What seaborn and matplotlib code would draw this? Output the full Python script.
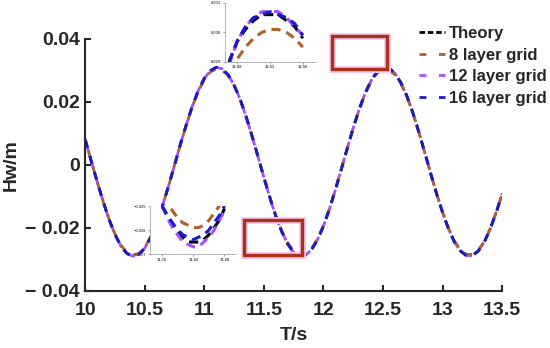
"""Wave elevation vs time: theory vs grid refinement, with zoomed insets."""

import matplotlib.pyplot as plt
from matplotlib.patches import Rectangle
from matplotlib.lines import Line2D
import seaborn as sns

# ---- data ----
t = [10.00, 10.05, 10.10, 10.15, 10.20, 10.25, 10.30, 10.35, 10.40, 10.45,
     10.50, 10.55, 10.60, 10.65, 10.70, 10.75, 10.80, 10.85, 10.90, 10.95,
     11.00, 11.05, 11.10, 11.15, 11.20, 11.25, 11.30, 11.35, 11.40, 11.45,
     11.50, 11.55, 11.60, 11.65, 11.70, 11.75, 11.80, 11.85, 11.90, 11.95,
     12.00, 12.05, 12.10, 12.15, 12.20, 12.25, 12.30, 12.35, 12.40, 12.45,
     12.50, 12.55, 12.60, 12.65, 12.70, 12.75, 12.80, 12.85, 12.90, 12.95,
     13.00, 13.05, 13.10, 13.15, 13.20, 13.25, 13.30, 13.35, 13.40, 13.45,
     13.50]

h_theory = [0.0080, 0.0013, -0.0053, -0.0116, -0.0173, -0.0221, -0.0258, -0.0281, -0.0290, -0.0284,
            -0.0264, -0.0229, -0.0184, -0.0128, -0.0066, 0.0000, 0.0067, 0.0130, 0.0188, 0.0237,
            0.0275, 0.0299, 0.0310, 0.0305, 0.0286, 0.0253, 0.0209, 0.0154, 0.0092, 0.0027,
            -0.0040, -0.0104, -0.0163, -0.0212, -0.0251, -0.0278, -0.0289, -0.0286, -0.0269, -0.0237,
            -0.0194, -0.0140, -0.0079, -0.0013, 0.0053, 0.0118, 0.0177, 0.0228, 0.0268, 0.0296,
            0.0309, 0.0307, 0.0291, 0.0261, 0.0219, 0.0166, 0.0105, 0.0040, -0.0027, -0.0092,
            -0.0151, -0.0203, -0.0245, -0.0273, -0.0288, -0.0288, -0.0273, -0.0245, -0.0203, -0.0151,
            -0.0092]

h_8layer = [0.0080, 0.0013, -0.0053, -0.0115, -0.0172, -0.0219, -0.0255, -0.0278, -0.0286, -0.0281,
            -0.0262, -0.0228, -0.0183, -0.0128, -0.0066, 0.0000, 0.0066, 0.0129, 0.0186, 0.0234,
            0.0271, 0.0295, 0.0305, 0.0301, 0.0283, 0.0251, 0.0208, 0.0154, 0.0092, 0.0027,
            -0.0040, -0.0103, -0.0161, -0.0209, -0.0247, -0.0273, -0.0284, -0.0281, -0.0265, -0.0235,
            -0.0193, -0.0140, -0.0079, -0.0013, 0.0053, 0.0117, 0.0175, 0.0225, 0.0264, 0.0291,
            0.0303, 0.0301, 0.0287, 0.0258, 0.0217, 0.0165, 0.0105, 0.0040, -0.0027, -0.0091,
            -0.0150, -0.0201, -0.0242, -0.0269, -0.0284, -0.0284, -0.0270, -0.0243, -0.0202, -0.0150,
            -0.0092]

# 12 and 16 layer grids overlap the theory curve at full scale
h_12layer = h_theory
h_16layer = h_theory

# zoomed window around the crest (upper inset)
t_crest = [12.47, 12.48, 12.49, 12.50, 12.51, 12.52, 12.53, 12.54, 12.55, 12.56]
crest_theory = [0.0290, 0.0297, 0.0301, 0.0304, 0.0306, 0.0306, 0.0306, 0.0304, 0.0302, 0.0298]
crest_8 = [0.0287, 0.0291, 0.0295, 0.0298, 0.0300, 0.0301, 0.0301, 0.0300, 0.0298, 0.0295]
crest_12 = [0.0289, 0.0297, 0.0302, 0.0305, 0.0307, 0.0307, 0.0307, 0.0305, 0.0302, 0.0299]
crest_16 = [0.0290, 0.0297, 0.0302, 0.0305, 0.0306, 0.0307, 0.0306, 0.0305, 0.0303, 0.0299]

# zoomed window around the trough (lower inset)
t_trough = [11.76, 11.77, 11.78, 11.79, 11.80, 11.81, 11.82, 11.83, 11.84, 11.85, 11.86, 11.87, 11.88]
trough_theory = [-0.0250, -0.0254, -0.0258, -0.0261, -0.0263, -0.0265, -0.0265,
                 -0.0265, -0.0264, -0.0262, -0.0259, -0.0256, -0.0251]
trough_8 = [-0.0246, -0.0249, -0.0252, -0.0255, -0.0257, -0.0258, -0.0259,
            -0.0259, -0.0258, -0.0256, -0.0253, -0.0250, -0.0246]
trough_12 = [-0.0250, -0.0255, -0.0259, -0.0262, -0.0265, -0.0266, -0.0267,
             -0.0267, -0.0265, -0.0263, -0.0260, -0.0256, -0.0252]
trough_16 = [-0.0250, -0.0254, -0.0257, -0.0260, -0.0262, -0.0263, -0.0264,
             -0.0263, -0.0262, -0.0260, -0.0257, -0.0254, -0.0250]

labels = ['Theory', '8 layer grid', '12 layer grid', '16 layer grid']
colors = ['black', '#b0602a', '#a64dff', '#1a1acc']

x_ticks = [10, 10.5, 11, 11.5, 12, 12.5, 13, 13.5]
x_ticklabels = ['10', '10.5', '11', '11.5', '12', '12.5', '13', '13.5']
y_ticks = [-0.04, -0.02, 0, 0.02, 0.04]
y_ticklabels = ['\u2212 0.04', '\u2212 0.02', '0', '0.02', '0.04']

# ---- style ----
sns.set_style('ticks')
plt.rcParams['font.family'] = ['Liberation Sans', 'DejaVu Sans']
plt.rcParams['font.weight'] = 'bold'

fig = plt.figure(figsize=(5.5, 3.48), dpi=100)
ax = fig.add_axes([0.155, 0.164, 0.758, 0.724])

# draw order: purple under, blue on top, dashes staggered so colours alternate
series = [h_theory, h_12layer, h_8layer, h_16layer]
order_colors = [colors[0], colors[2], colors[1], colors[3]]
offsets = [0, 4, 2, 6]
for ys, col, off in zip(series, order_colors, offsets):
    sns.lineplot(x=t, y=ys, ax=ax, color=col, linewidth=2,
                 linestyle=(off, (3, 3)), sort=False, legend=False)

ax.set_xlim(10, 13.5)
ax.set_ylim(-0.04, 0.04)
ax.set_xticks(x_ticks)
ax.set_xticklabels(x_ticklabels)
ax.set_yticks(y_ticks)
ax.set_yticklabels(y_ticklabels)
ax.tick_params(axis='both', direction='in', length=4, width=1.5, labelsize=14)
ax.tick_params(axis='x', pad=8)
ax.tick_params(axis='y', pad=4)
for lbl in ax.get_xticklabels() + ax.get_yticklabels():
    lbl.set_fontweight('bold')
ax.set_xlabel('T/s', fontsize=14, fontweight='bold', labelpad=6)
ax.set_ylabel('Hw/m', fontsize=14, fontweight='bold', labelpad=4)
sns.despine(ax=ax)
for sp in ['left', 'bottom']:
    ax.spines[sp].set_linewidth(1.5)

# highlight boxes
for (x0, y0, w, h) in [(12.07, 0.0305, 0.46, 0.0105), (11.33, -0.0286, 0.49, 0.0111)]:
    ax.add_patch(Rectangle((x0, y0), w, h, fill=False, edgecolor='#ffc8f0',
                           linewidth=5, clip_on=False, zorder=4))
    ax.add_patch(Rectangle((x0, y0), w, h, fill=False, edgecolor='#a8321a',
                           linewidth=2.5, clip_on=False, zorder=5))

handles = [Line2D([], [], color=colors[0], linewidth=2, linestyle=(0, (2, 1)))]
handles += [Line2D([], [], color=c, linewidth=2, linestyle=(0, (2.5, 4.5))) for c in colors[1:]]
ax.legend(handles, labels, loc='upper left', bbox_to_anchor=(0.755, 0.935),
          bbox_transform=fig.transFigure, frameon=False,
          handlelength=1.6, handletextpad=0.2, labelspacing=0.4,
          borderaxespad=0, borderpad=0.2,
          prop={'weight': 'bold', 'size': 12})


def draw_inset(rect, xs, curves, xlim, ylim, xt, yt):
    iax = fig.add_axes(rect)
    for ys, col in zip(curves, colors):
        sns.lineplot(x=xs, y=ys, ax=iax, color=col, linewidth=2.2,
                     linestyle=(0, (3, 2)), legend=False)
    iax.set_xlim(*xlim)
    iax.set_ylim(*ylim)
    iax.set_xticks(xt)
    iax.set_yticks(yt)
    iax.tick_params(labelsize=3, length=1.5, width=0.4, colors='#555555', pad=1)
    iax.set_xlabel('')
    iax.set_ylabel('')
    sns.despine(ax=iax)
    for sp in ['left', 'bottom']:
        iax.spines[sp].set_linewidth(0.5)
        iax.spines[sp].set_color('#999999')
    return iax


draw_inset([0.409, 0.822, 0.164, 0.170], t_crest,
           [crest_theory, crest_8, crest_12, crest_16],
           (12.465, 12.575), (0.029, 0.031),
           [12.48, 12.52, 12.56], [0.029, 0.030, 0.031])
draw_inset([0.273, 0.270, 0.155, 0.138], t_trough,
           [trough_theory, trough_8, trough_12, trough_16],
           (11.737, 11.901), (-0.027, -0.025),
           [11.76, 11.82, 11.88], [-0.027, -0.026, -0.025])

plt.savefig('out.png', dpi=100)
